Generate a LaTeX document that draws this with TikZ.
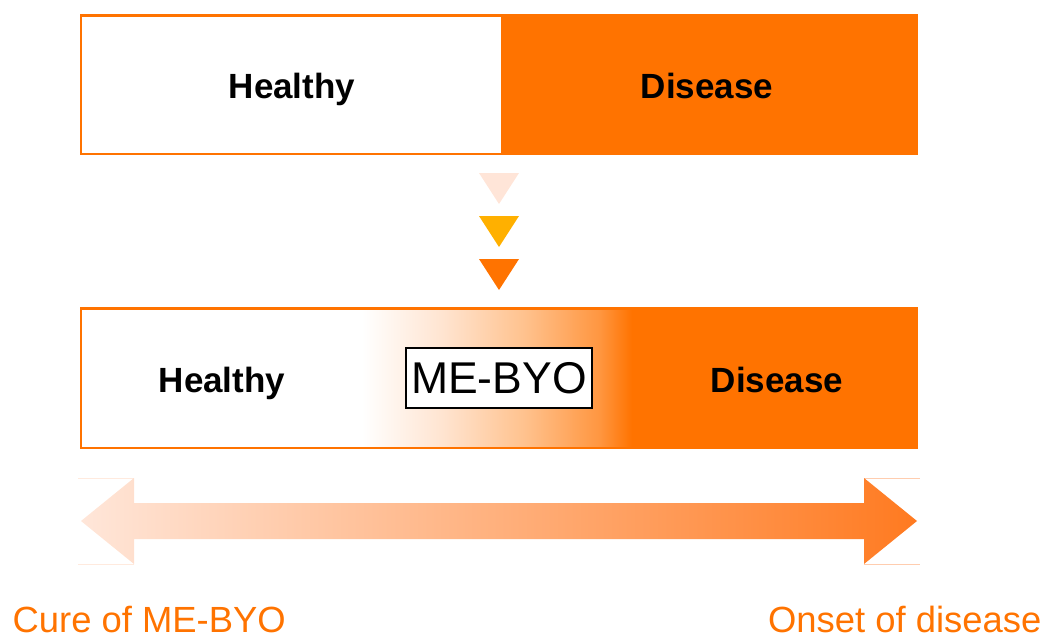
\documentclass[tikz,border=0pt]{standalone}
\usepackage{fontspec}
\setmainfont{Liberation Sans}
\definecolor{mborange}{RGB}{255,115,0}
\definecolor{mbA}{RGB}{255,228,208}
\definecolor{mbB}{RGB}{255,194,142}
\definecolor{mbC}{RGB}{255,150,64}
\definecolor{triA}{RGB}{255,229,216}
\definecolor{triB}{RGB}{255,176,0}
\definecolor{arrL}{RGB}{255,230,217}
\definecolor{arrR}{RGB}{255,122,32}
\definecolor{faintL}{RGB}{255,234,222}
\definecolor{faintR}{RGB}{255,205,175}
\pgfdeclarehorizontalshading{mebyo}{100bp}{color(0bp)=(white); color(25bp)=(white); color(40bp)=(mbA); color(55bp)=(mbB); color(69bp)=(mbC); color(75bp)=(mborange); color(100bp)=(mborange)}
\begin{document}
\begin{tikzpicture}[x=1pt,y=-1pt,
  boxline/.style={draw=mborange,line width=2.5pt},
  bigbold/.style={inner sep=0pt,anchor=base,font=\fontsize{35}{42}\selectfont\bfseries},
  endlabel/.style={inner sep=0pt,text=mborange,font=\fontsize{36.4}{42}\selectfont},
  tri/.style={draw=none}]
\useasboundingbox (0,0) rectangle (1042,635);
% top box
\fill[white] (81,15.5) rectangle (501,154);
\fill[mborange] (501,15.5) rectangle (917,154);
\draw[boxline] (81,15.5) rectangle (917,154);
\node[bigbold] (th) at (292,98.5) {Healthy};
\node[bigbold] (td) at (707,98.5) {Disease};
% triangles
\fill[triA] (479,173) -- (519,173) -- (499,204) -- cycle;
\fill[triB] (479,216) -- (519,216) -- (499,247) -- cycle;
\fill[mborange] (479,259) -- (519,259) -- (499,290) -- cycle;
% bottom box
\fill[white] (81,308.5) rectangle (362,448);
\shade[shading=mebyo] (362,308.5) rectangle (632,448);
\fill[mborange] (631.5,308.5) rectangle (917,448);
\draw[boxline] (81,308.5) rectangle (917,448);
\node[bigbold] (bh) at (222,392) {Healthy};
\node[bigbold] (bd) at (777,392) {Disease};
\node[draw=black,fill=white,line width=1.2pt,minimum width=186pt,minimum height=60pt,inner sep=0pt,
  font=\fontsize{44.5}{50}\selectfont] (mb) at (499,378) {ME-BYO};
% double arrow
\draw[faintL,line width=0.8pt] (78,478) -- (134,478) (78,564) -- (134,564);
\draw[faintR,line width=0.8pt] (864,478) -- (920,478) (864,564) -- (920,564);
\shade[left color=arrL,right color=arrR] (81,521) -- (134,478) -- (134,503) -- (864,503) -- (864,478) -- (917,521) -- (864,564) -- (864,539) -- (134,539) -- (134,564) -- cycle;
\node[endlabel,anchor=base west] (cure) at (12.5,632) {Cure of ME-BYO};
\node[endlabel,anchor=base east] (onset) at (1041.5,632) {Onset of disease};
\end{tikzpicture}
\end{document}
